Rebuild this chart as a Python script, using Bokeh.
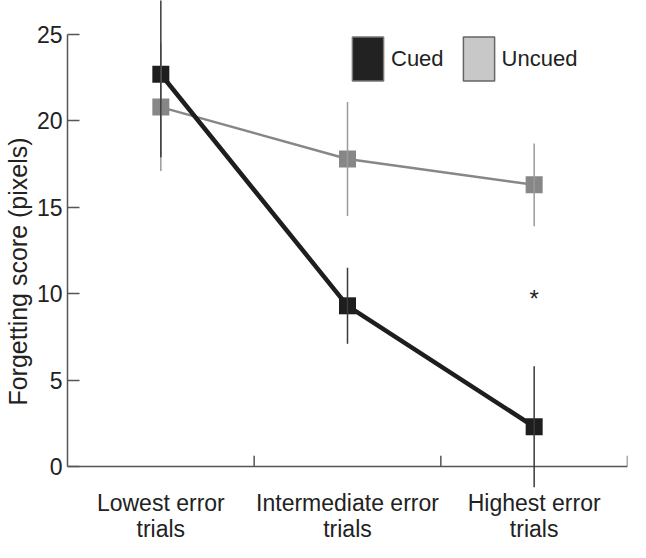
from bokeh.plotting import figure
from bokeh.models import FixedTicker, Legend, LegendItem
from bokeh.core.properties import value
from bokeh.embed import file_html
from bokeh.resources import INLINE

# ---- data ----
categories = ["Lowest error trials", "Intermediate error trials", "Highest error trials"]
tick_labels = ["Lowest error\ntrials", "Intermediate error\ntrials", "Highest error\ntrials"]
cued_mean = [22.7, 9.3, 2.3]
cued_err = [4.8, 2.2, 3.5]
uncued_mean = [20.8, 17.8, 16.3]
uncued_err = [3.7, 3.3, 2.4]
star_category = "Highest error trials"
star_y = 9.7
y_ticks = [0, 5, 10, 15, 20, 25]

FONT = "Liberation Sans"
TXT = "#222222"
CUED = "#1e1e1e"
UNCUED = "#878787"
LABEL_Y = -1.39  # data position of category labels (below baseline)

pos = [i + 0.5 for i in range(len(categories))]
bounds = [i + 1 for i in range(len(categories))]

p = figure(width=630, height=542, x_range=(0, len(categories)), y_range=(-4.40, 26.97),
           x_axis_location=None,
           output_backend="svg", toolbar_location=None,
           min_border_top=0, min_border_right=3, min_border_left=0, min_border_bottom=0)
p.outline_line_color = None
p.grid.visible = False
p.background_fill_color = "white"

# y axis
ya = p.yaxis[0]
ya.bounds = (0, 25)
ya.ticker = FixedTicker(ticks=y_ticks)
ya.axis_line_color = "#555555"
ya.axis_line_width = 1.5
ya.major_tick_line_color = "#555555"
ya.major_tick_line_width = 1.5
ya.major_tick_in = 12
ya.major_tick_out = 0
ya.minor_tick_line_color = None
ya.major_label_text_font = FONT
ya.major_label_text_font_size = "23px"
ya.major_label_text_color = TXT
ya.major_label_standoff = 5
ya.axis_label = "Forgetting score (pixels)"
ya.axis_label_text_font = FONT
ya.axis_label_text_font_size = "25px"
ya.axis_label_text_font_style = "normal"
ya.axis_label_text_color = TXT
ya.axis_label_standoff = 2

# legend swatch renderers (zero-size, drawn first)
r_cued = p.rect(x=pos, y=cued_mean, width=0, height=0,
                fill_color="#222222", line_color="#777777", line_width=1.5)
r_uncued = p.rect(x=pos, y=uncued_mean, width=0, height=0,
                  fill_color="#c8c8c8", line_color="#666666", line_width=1.5)

# baseline at y=0 and boundary ticks
p.segment(x0=[0], y0=[0], x1=[len(categories)], y1=[0], line_color="#555555", line_width=1.5)
p.segment(x0=bounds, y0=[0] * len(bounds), x1=bounds, y1=[0.62] * len(bounds),
          line_color="#555555", line_width=1.5)

# category labels
p.text(x=pos, y=[LABEL_Y] * len(pos), text=tick_labels,
       text_font=value(FONT), text_font_size="23px", text_color=TXT,
       text_align="center", text_baseline="top", text_line_height=0.98)

# series
p.line(pos, uncued_mean, line_color=UNCUED, line_width=2.5)
p.scatter(pos, uncued_mean, marker="square", size=17, fill_color=UNCUED, line_color=None)
p.line(pos, cued_mean, line_color=CUED, line_width=4.5)
p.scatter(pos, cued_mean, marker="square", size=17, fill_color=CUED, line_color=None)

# error bars
p.segment(x0=pos, x1=pos,
          y0=[m - e for m, e in zip(uncued_mean, uncued_err)],
          y1=[m + e for m, e in zip(uncued_mean, uncued_err)],
          line_color="#9a9a9a", line_width=1.5)
p.segment(x0=pos, x1=pos,
          y0=[m - e for m, e in zip(cued_mean, cued_err)],
          y1=[m + e for m, e in zip(cued_mean, cued_err)],
          line_color="#3a3a3a", line_width=1.5)

# significance star
p.text(x=[pos[categories.index(star_category)]], y=[star_y], text=["*"],
       text_font=value(FONT), text_font_size="24px", text_color=TXT,
       text_align="center", text_baseline="middle")

# legend
legend = Legend(items=[LegendItem(label="Cued", renderers=[r_cued]),
                       LegendItem(label="Uncued", renderers=[r_uncued])],
                orientation="horizontal", location=(281, 456),
                glyph_width=39, glyph_height=55, label_standoff=4, spacing=15,
                padding=0, margin=0, border_line_color=None, background_fill_alpha=0,
                label_text_font=FONT, label_text_font_size="22px", label_text_color=TXT)
p.add_layout(legend, "center")

open("out.html", "w").write(file_html(p, INLINE))
